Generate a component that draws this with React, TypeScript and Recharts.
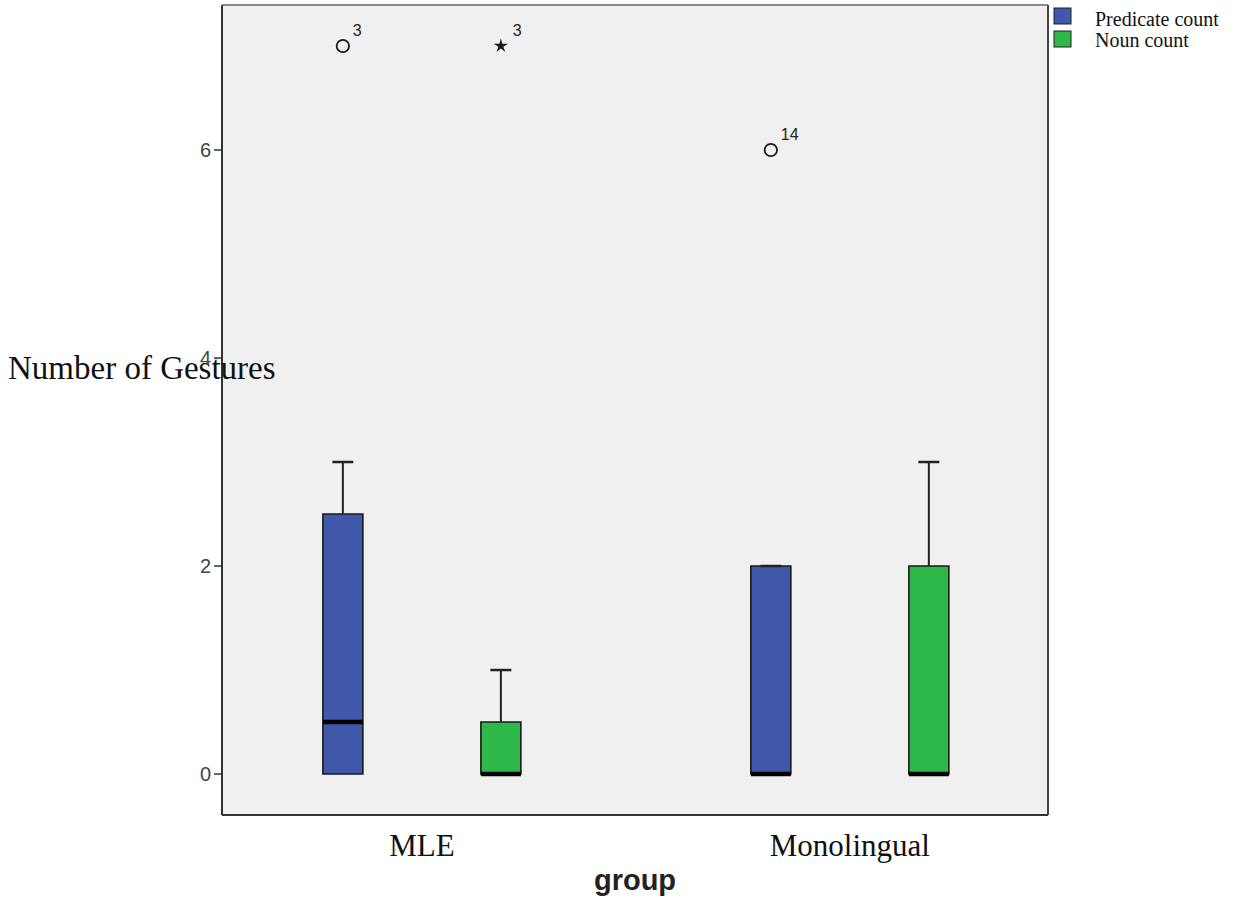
import React from "react";
import {
  ComposedChart,
  XAxis,
  YAxis,
  CartesianGrid,
  ReferenceArea,
  ReferenceLine,
  Scatter,
} from "recharts";

// ---------- data ----------
const groups = ["MLE", "Monolingual"];
const seriesNames = ["Predicate count", "Noun count"];
const seriesColors = ["#3f58a9", "#2eb84a"];

const predicateMin = [0, 0];
const predicateQ1 = [0, 0];
const predicateMedian = [0.5, 0];
const predicateQ3 = [2.5, 2];
const predicateMax = [3, 2];

const nounMin = [0, 0];
const nounQ1 = [0, 0];
const nounMedian = [0, 0];
const nounQ3 = [0.5, 2];
const nounMax = [1, 3];

const yTicks = [0, 2, 4, 6];

const outlierGroup = [0, 0, 1];
const outlierSeries = [0, 1, 0];
const outlierValue = [7, 7, 6];
const outlierCase = ["3", "3", "14"];
const outlierKind = ["circle", "star", "circle"];

// ---------- layout constants ----------
const X_MIN = -0.467;
const X_MAX = 1.463;
const Y_MIN = -0.394;
const Y_MAX = 7.394;
const SERIES_OFFSET = 0.1846;
const BOX_HALF = 0.0467;
const CAP_HALF = 0.0245;

const stats = [
  { min: predicateMin, q1: predicateQ1, med: predicateMedian, q3: predicateQ3, max: predicateMax },
  { min: nounMin, q1: nounQ1, med: nounMedian, q3: nounQ3, max: nounMax },
];

const boxes: any[] = [];
groups.forEach((_, g) => {
  seriesNames.forEach((__, s) => {
    const st = stats[s];
    boxes.push({
      key: `${g}-${s}`,
      x: g + (s === 0 ? -SERIES_OFFSET : SERIES_OFFSET),
      min: st.min[g],
      q1: st.q1[g],
      med: st.med[g],
      q3: st.q3[g],
      max: st.max[g],
      color: seriesColors[s],
    });
  });
});

const outliers = outlierValue.map((v, i) => ({
  x: outlierGroup[i] + (outlierSeries[i] === 0 ? -SERIES_OFFSET : SERIES_OFFSET),
  y: v,
  label: outlierCase[i],
  kind: outlierKind[i],
}));

const serif = "'Liberation Serif', 'DejaVu Serif', serif";
const sans = "'Liberation Sans', Arial, sans-serif";

const OutlierShape = (props: any) => {
  const { cx, cy, payload } = props;
  if (cx == null || cy == null) return null;
  const isStar = payload.kind === "star";
  let mark;
  if (isStar) {
    const pts: string[] = [];
    for (let k = 0; k < 10; k++) {
      const r = k % 2 === 0 ? 7.5 : 2.6;
      const a = -Math.PI / 2 + (k * Math.PI) / 5;
      pts.push(`${cx + r * Math.cos(a)},${cy + r * Math.sin(a)}`);
    }
    mark = <polygon points={pts.join(" ")} fill="#1a1a1a" />;
  } else {
    mark = <circle cx={cx} cy={cy} r={6.2} fill="none" stroke="#1a1a1a" strokeWidth={1.8} />;
  }
  return (
    <g>
      {mark}
      <text
        x={cx + (isStar ? 12 : 10)}
        y={cy - 10}
        fontFamily={sans}
        fontSize={16}
        fill="#222"
      >
        {payload.label}
      </text>
    </g>
  );
};

const XTick = (props: any) => {
  const { x, y, payload } = props;
  return (
    <text x={x} y={y + 41} textAnchor="middle" fontFamily={serif} fontSize={31} fill="#111">
      {groups[payload.value]}
    </text>
  );
};

const YTitle = () => (
  <text x={8} y={379} fontFamily={serif} fontSize={33} fill="#111">
    Number of Gestures
  </text>
);

export default function App() {
  return (
    <div style={{ position: "absolute", left: 0, top: 0, width: 1246, height: 900, background: "#fff" }}>
      <ComposedChart
        width={1246}
        height={900}
        margin={{ top: 5, right: 198, bottom: 0, left: 0 }}
      >
        <CartesianGrid horizontal={false} vertical={false} fill="#f0f0f0" stroke="none" />
        <XAxis
          type="number"
          dataKey="x"
          domain={[X_MIN, X_MAX]}
          ticks={[0, 1]}
          allowDataOverflow
          height={85}
          tickLine={false}
          tickSize={0}
          tickMargin={0}
          axisLine={{ stroke: "#333", strokeWidth: 2 }}
          tick={<XTick />}
          label={{
            value: "group",
            position: "insideBottom",
            offset: 10,
            style: { fontFamily: sans, fontWeight: "bold", fontSize: 29, fill: "#222" },
          }}
        />
        <YAxis
          type="number"
          dataKey="y"
          domain={[Y_MIN, Y_MAX]}
          ticks={yTicks}
          allowDataOverflow
          width={222}
          tickSize={8}
          tickMargin={3}
          tickLine={{ stroke: "#333", strokeWidth: 1.5 }}
          axisLine={{ stroke: "#333", strokeWidth: 2 }}
          tick={{ fontFamily: sans, fontSize: 20, fill: "#444" }}
          label={<YTitle />}
        />
        <ReferenceLine y={Y_MAX} stroke="#8a8a8a" strokeWidth={2} ifOverflow="visible" />
        <ReferenceLine x={X_MAX} stroke="#444" strokeWidth={2} ifOverflow="visible" />

        {boxes.map((b) => (
          <ReferenceLine
            key={`wu-${b.key}`}
            segment={[{ x: b.x, y: b.q3 }, { x: b.x, y: b.max }]}
            stroke="#222"
            strokeWidth={2}
            ifOverflow="visible"
          />
        ))}
        {boxes.map((b) => (
          <ReferenceLine
            key={`wl-${b.key}`}
            segment={[{ x: b.x, y: b.min }, { x: b.x, y: b.q1 }]}
            stroke="#222"
            strokeWidth={2}
            ifOverflow="visible"
          />
        ))}
        {boxes.map((b) => (
          <ReferenceLine
            key={`cu-${b.key}`}
            segment={[{ x: b.x - CAP_HALF, y: b.max }, { x: b.x + CAP_HALF, y: b.max }]}
            stroke="#222"
            strokeWidth={2.5}
            ifOverflow="visible"
          />
        ))}
        {boxes.map((b) => (
          <ReferenceArea
            key={`box-${b.key}`}
            x1={b.x - BOX_HALF}
            x2={b.x + BOX_HALF}
            y1={b.q1}
            y2={b.q3}
            fill={b.color}
            fillOpacity={1}
            stroke="#1a1a1a"
            strokeWidth={1.6}
            ifOverflow="visible"
          />
        ))}
        {boxes.map((b) => (
          <ReferenceLine
            key={`med-${b.key}`}
            segment={[{ x: b.x - BOX_HALF, y: b.med }, { x: b.x + BOX_HALF, y: b.med }]}
            stroke="#000"
            strokeWidth={4.5}
            ifOverflow="visible"
          />
        ))}
        <Scatter data={outliers} isAnimationActive={false} shape={<OutlierShape />} />
      </ComposedChart>

      <svg
        width={200}
        height={60}
        style={{ position: "absolute", left: 1046, top: 0, overflow: "visible" }}
      >
        {seriesNames.map((name, i) => (
          <g key={name}>
            <rect
              x={8}
              y={8 + i * 23}
              width={17}
              height={16}
              fill={seriesColors[i]}
              stroke="#222"
              strokeWidth={1}
            />
            <text x={49} y={26 + i * 21} fontFamily={serif} fontSize={20} fill="#111">
              {name}
            </text>
          </g>
        ))}
      </svg>
    </div>
  );
}
